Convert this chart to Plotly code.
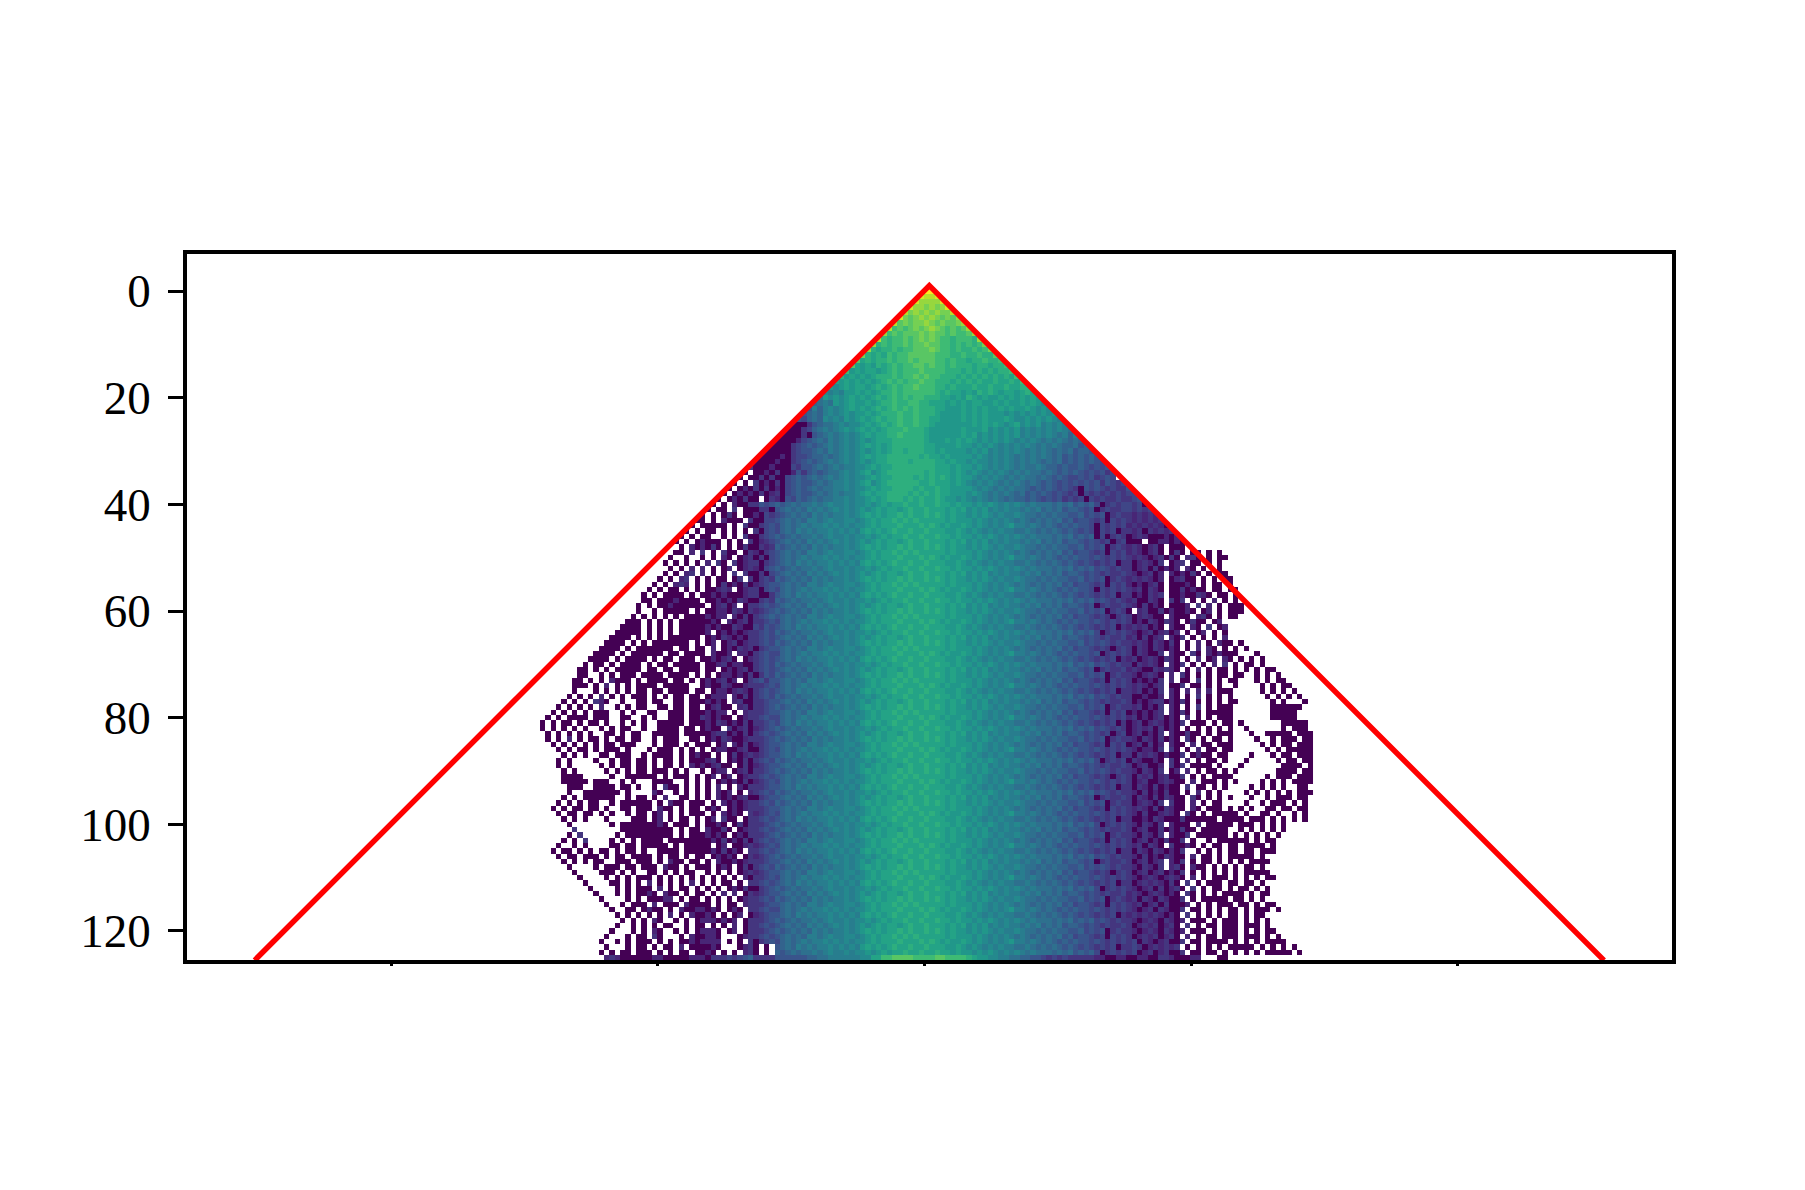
import numpy as np
import plotly.graph_objects as go

# one string per image row, ten cells per block, '.' is an empty cell
# levels run 0-9 then A-J along the colour scale
LEVELS = "0123456789ABCDEFGHIJ"
ROWS = [
# row 0
".......... .......... .......... .......... .......... .......... .......... ..JJ",
".......... .......... .......... .......... .......... .......... .......... .IHHI",
".......... .......... .......... .......... .......... .......... .......... IGGGGI",
".......... .......... .......... .......... .......... .......... .........I GGFGFGI",
".......... .......... .......... .......... .......... .......... ........HF GFGFGFFH",
".......... .......... .......... .......... .......... .......... .......IFE FGFGFEFEG",
".......... .......... .......... .......... .......... .......... ......HEFE FFGFEFEEFG",
".......... .......... .......... .......... .......... .......... .....HDEDE FEFGFEDEDE G",
".......... .......... .......... .......... .......... .......... ....GDEDEE EFEFEEDEDD EG",
".......... .......... .......... .......... .......... .......... ...HDCDDED EFEFEDDCDD DCG",
# row 10
".......... .......... .......... .......... .......... .......... ..GCDCDDED EEFEEDDCDC DCDF",
".......... .......... .......... .......... .......... .......... .GCBCCDCDD EEEFEDDCDC CDCDF",
".......... .......... .......... .......... .......... .......... FCBCBDCDDE EEEEDDDCCD CCDCCE",
".......... .......... .......... .......... .......... .........E BCBCCDCDDE DEEEDDCDCC BCCDCCD",
".......... .......... .......... .......... .......... ........EB ABACBCDCDD EEDEDDCDCC CBCCBCCD",
".......... .......... .......... .......... .......... .......DAB ABBABCDCDD DEDDDDCCCB CBCBCBCCD",
".......... .......... .......... .......... .......... ......CABA BABCCCDCDD EDEDDCCCBC BCBCBCBCBD",
".......... .......... .......... .......... .......... .....BABAB ABABCDCDCD DEDDCCCBCB CBCBBCBBCB D",
".......... .......... .......... .......... .......... ....A9ABAB BABCBCDCDD EDDDCCBCBB BCBBCBBCBB CC",
".......... .......... .......... .......... .......... ...9898AAB ABABCCDCDD DDDDCBCBBA BACBCBABBA BCB",
# row 20
".......... .......... .......... .......... .......... ..7A9A9ABA BABCBCDCDC DDCCCBBABA CBABAABABA BABA",
".......... .......... .......... .......... .......... .6787A9ABA ABABCCDCCD DCCBBBABAB ABBAABABAA BABA9",
".......... .......... .......... .......... .......... 5868989ABA BABCBCDCDC DCCCBBAAAB ABABAABABA ABA9A9",
".......... .......... .......... .......... .........5 6768989A9A ABABCCCDCC DCCCBAAAAB ABABAAA9A9 A9A9A9A",
".......... .......... .......... .......... ........54 6769898A9A BABCBCCDCC DCCBBAAAAB ABABAAABA9 9A9A9A98",
".......... .......... .......... .......... .......000 3567789899 ABABCBCDCC DCCBAAAAAA ABABABA9AB 9A9A89898",
".......... .......... .......... .......... ......0003 4678789A9A BABABCCCDC CCBAAAAAAB AAAB9A9A9A 8989898987",
".......... .......... .......... .......... .....00003 0567878989 ABABBCCDCC CCBAAAAAAB AB9A9A9A9A 8989898786 8",
".......... .......... .......... .......... ....000024 5676878989 A9ABBBCCCC CCBAAABABA BA9A9A9A98 9898787876 76",
".......... .......... .......... .......... ...0000345 6567878989 ABABABCCCC CCBBAAAABA A9A9A98989 8987878766 756",
# row 30
".......... .......... .......... .......... ..00000345 5676878989 A9ABABCCBC CCBBABAAAA 9A9A898989 8787876767 5665",
".......... .......... .......... .......... .000020344 5667678989 ABABBCCCCC CBCBBABAAA A9A9898987 8787876756 56565",
".......... .......... .......... .......... 0000200345 6567878989 A9ABBCCCCB CCCCBBABAA 9A99898987 8787676756 565654",
".......... .......... .......... .........3 0002000435 5676787889 9ABABBCCCC CCCCBBBABA A9A9898987 8778766565 5654545",
".......... .......... .......... ........0. 0020300253 5656778989 AB9ABCCCCC CCBCBBBABA 9A98989878 7877676565 65454534",
".......... .......... .......... .......0.0 0303004565 6767878989 9ABABBCCCC BCBCBCBABA A989898787 8776765654 45453454",
".......... .......... .......... ......0.0. 3020304565 5676788989 AB9ABCCCCC CBBCBBBABA 9898987878 7676565454 5454535434",
".......... .......... .......... .....0.020 3030204565 6767788989 9ABABBCCCC BCBBCBBAAA A989878787 7656565454 3054543433 5",
".......... .......... .......... ....0.0202 0302304565 5676787889 ABABBCCCCB CBCBCBBAAA 9A98787876 7565654543 4043434343 44",
".......... .......... .......... ...0.02030 0.03205465 6767788989 9ABABCCCBC BCBBCBAA9A 9898787676 6565454534 3404343343 345",
# row 40
".......... .......... .......... ..0.0.2003 3545656767 7878988989 9A9ABABBCB BCBBCBBABA A9A9A98989 8787776767 5656403434 4340",
".......... .......... .......... .0.00.3.00 0330567676 8787898989 A9ABABBABC BBCBBBABAB 9A9A898988 7878676756 6545034334 43434",
".......... .......... .......... 0.0.030.00 2043456767 6878788989 ABABABBCBC BBCBCBABAA 9A9A989889 8776767665 5645450343 323232",
".......... .......... .........0 0.0.2000.3 0044567676 8878988998 9ABABBCBCB CBBBBBABAA A9A9898987 8767676756 4554340434 3232323",
".......... .......... ........0. 00000.0.30 0345467678 7889898989 9ABABBBCBB BCBCBABAAB A9A98989A8 8787676565 6554043434 23232320",
".......... .......... .......0.0 .00.0.0.0. 3045467687 8788989898 ABABABCBBC BBCBBBAABA 9A98989887 7876767656 5454043403 323032323",
".......... .......... ......0.0. 00..0.0.30 0345656767 7878988989 9A9ABABBCB BCBBCBBABA A9A9A98989 8787776767 5656040343 0232000202",
".......... .......... .....0.0.0 2000.0.0.3 0234567676 8787898989 A9ABABBABC BBCBBBABAB 9A9A898988 7878676756 6545434034 000.002202 0",
".......... .......... ......0.20 2030.0.030 0323656767 6878788989 ABABABBCBC BBCBCBABAA 9A9A989889 8776767665 5645450343 2320230.00 0",
".......... .......... .....00.2. 3.0.300.03 2034567676 8878988998 9ABABBCBCB CBBBBBABAA A9A9898987 8767676756 4554340434 2320230.03 0.00.0.0.",
# row 50
".......... .......... ....0..0.. 0.0.20.023 0304567678 7889898989 9ABABBBCBB BCBCBABAAB A9A98989A8 8787676565 6554543434 3232023030 .230.0.00",
".......... .......... ...0.0.0.0 .2.30.3023 3034567687 8788989898 ABABABCBBC BBCBBBAABA 9A98989887 7876767656 5454343403 3023203.02 3.00.0.0.",
".......... .......... ....0.0.2. 2.0.02.023 2045656767 7878988989 9A9ABABBCB BCBBCBBABA A9A9A98989 8787776767 5656454343 3023030202 .20.0..0",
".......... .......... ...0.0.23. 2.0.0.3.30 0304567676 8787898989 A9ABABBABC BBCBBBABAB 9A9A898988 7878676756 6545434334 3202302.20 2030.0.00",
".......... .......... ..0.0.23.0 .0.00.03.3 0343656767 6878788989 ABABABBCBC BBCBCBABAA 9A9A989889 8776767665 5645450343 2323202.02 300.0.0.00",
".......... .......... .0.0.232.0 .0.0302030 2345567676 8878988998 9ABABBCBCB CBBBBBABAA A9A9898987 8767676756 4554340434 2020230.00 020.0.00.0",
".......... .......... 0.0.00.0.0 .00232.023 3045467678 7889898989 9ABABBBCBB BCBCBABAAB A9A98989A8 8787676565 6554043434 3230320.00 30200.00.0 0",
".......... .........0 .0.0000.0. 0020200023 3003567687 8788989898 ABABABCBBC BBCBBBAABA 9A98989887 7876767656 5454343403 3020323.00 200320.00. 0",
".......... .........0 0.00020000 .002020320 0343656767 7878988989 9A9ABABBCB BCBBCBBABA A9A9A98989 8787776767 5656454343 2300320.30 3.0.0.2.0. 0",
".......... ........0. 0.00200000 0.02302.03 3454567676 8787898989 A9ABABBABC BBCBBBABAB 9A9A898988 7878676756 6545034334 3203020.00 02.3.2.0.0 00",
# row 60
".......... ........0. .0.00000.0 .002203203 2345656767 6878788989 ABABABBCBC BBCBCBABAA 9A9A989889 8776767665 5645450343 0.23003020 020.02.0.0 00",
".......... .......0.0 .0.0.0.000 02022.2030 3456567676 8878988998 9ABABBCBCB CBBBBBABAA A9A9898987 8767676756 4554343034 3023200.20 00.230.0.0 0",
".......... ......000. 0.0.0.0000 0020.20230 3345467678 7889898989 9ABABBBCBB BCBCBABAAB A9A98989A8 8787676565 6554543434 3020320320 .0300.02",
".......... .....0000. 0.0.0.0000 0202003200 4354567687 8788989898 ABABABCBBC BBCBBBAABA 9A98989887 7876767656 5454343403 2323020.20 0.20.3.02",
".......... ....00000. 0.0.0.0000 02.0202023 3454656767 7878988989 9A9ABABBCB BCBBCBBABA A9A9A98989 8787776767 5656403434 3202302302 .0.02.0.0",
".......... ...0000.0. 0.0.000000 .020320203 3454567676 8787898989 A9ABABBABC BBCBBBABAB 9A9A898988 7878676756 6545434334 2303023.20 3.0.0.0.2.",
".......... ..0000.0.0 .0000000.0 .02.023023 3454656767 6878788989 ABABABBCBC BBCBCBABAA 9A9A989889 8776767665 5645454343 3232032030 .0.2.0.200 .0",
".......... .0000.0.00 00000.00.0 0.2.020323 0345567676 8878988998 9ABABBCBCB CBBBBBABAA A9A9898987 8767676756 4554343034 3032032020 .0.2.20.0. 0.0",
".......... 0000.0.000 000.00.000 0.2002.220 3454467678 7889898989 9ABABBBCBB BCBCBABAAB A9A98989A8 8787676565 6554503434 3032003.20 0.30.20200 0...0",
".........0 000.0.0000 .0.00.000. 0020230.02 3454567687 8788989898 ABABABCBBC BBCBBBAABA 9A98989887 7876767656 5454343403 2302320320 .0.2.02.20 .0.0.0",
# row 70
"........0. 00.0.0000. 0.00.00000 .002302200 3454656767 7878988989 9A9ABABBCB BCBBCBBABA A9A9A98989 8787776767 5656454343 3032320.20 3.0.0.2.3. 0.00.0",
".......00. 0.0.00000. 00.00.0000 .00.020230 3454567676 8787898989 A9ABABBABC BBCBBBABAB 9A9A898988 7878676756 6545034334 2320032320 .0.2.0.00. 0.0.0.00",
".......00. .0.0.000.0 000.0000.0 .0.0220203 0354656767 6878788989 ABABABBCBC BBCBCBABAA 9A9A989889 8776767665 5645450343 3202320.2. 30.0.0.00. 00..0.0.0",
"......00.0 .0.2000.0. 0000.00.0. 0202302.03 4535567676 8878988998 9ABABBCBCB CBBBBBABAA A9A9898987 8767676756 4554340434 3020203.2. 00.3.0.0.0 0...0.0.00",
"......000. 0.2.0.0.00 00.00000.. 0200320023 3345467678 7889898989 9ABABBBCBB BCBCBABAAB A9A98989A8 8787676565 6554543434 3232023.00 3.00.0.0.. 0....0.0.0 0",
"......0... 0.0.0.0.00 .00.0000.0 0.02202320 3454567687 8788989898 ABABABCBBC BBCBBBAABA 9A98989887 7876767656 5454343403 3230203.20 .2.2.2.000 .....0.0.0 .0",
".....0.0.0 .2.0.0.000 .0.0.00.00 .0222.2030 3454656767 7878988989 9A9ABABBCB BCBBCBBABA A9A9A98989 8787776767 5656454343 3002002.20 .0.3.0.0.0 ......0.0. 0.0",
"....0.0.0. 320..0..00 .00..00.00 02020.2300 3345567676 8787898989 A9ABABBABC BBCBBBABAB 9A9A898988 7878676756 6545434334 3020233020 30.0.0.0.0 0......0.0 ...0",
"...0.0.0.0 .2..0.0.00 ..00.00.00 .02300.230 3345656767 6878788989 ABABABBCBC BBCBCBABAA 9A9A989889 8776767665 5645450343 3230203.20 .0.3.0.000 .......000 000",
"..0.0.0.0. 000..0.0.. 00..000.00 02022.0.23 3345567676 8878988998 9ABABBCBCB CBBBBBABAA A9A9898987 8767676756 4554340434 0202023.20 30.0.00000 .......000 00",
# row 80
".0.0.0000. 000..00..0 .0..000.00 320200.023 3454467678 7889898989 9ABABBBCBB BCBCBABAAB A9A98989A8 8787676565 6554543434 2302023020 .2.0.0.000 .......000 00",
"0.0.00.0.0 0.0..0.0.0 ..00000.00 0203202030 3345467687 8788989898 ABABABCBBC BBCBBBAABA 9A98989887 7876767656 5454343403 0230232020 3.000.0.00 .0.......0 0000",
"0.0.0.0.0. .0.0.00..0 ..0000.00. 0200.30230 2345656767 7878988989 9A9ABABBCB BCBBCBBABA A9A9A98989 8787776767 5656454343 0232303020 .0.0.0.0.0 ..0......0 .000",
".0.0.0.0.0 ..00.0.00. .00000.000 0023302030 3454567676 8787898989 A9ABABBABC BBCBBBABAB 9A9A898988 7878676756 6545434034 0230203.20 0300.0.000 ...0..0000 0.000",
".0.0.2.0.0 0.0.00.00. .0.000..00 .020320023 3345656767 6878788989 ABABABBCBC BBCBCBABAA 9A9A989889 8776767665 5645450343 3203203020 .30.0.00.0 ....0..0.0 00.00",
"..0.0.0.0. 0.00.000.. .0.000.0.0 00.02.2030 2345567676 8878988998 9ABABBCBCB CBBBBBABAA A9A9898987 8767676756 4554340434 0230302.20 0.2.00.000 .....0.0.0 0.000",
"...0.0.00. 0.000.0... 0.000.0.0. 0.02200230 0345467678 7889898989 9ABABBBCBB BCBCBABAAB A9A98989A8 8787676565 6554543434 3202203.30 .0.2.00.00 ......0.0. 00000",
"....0.0.0. .00.000..0 .0000.0.02 00.0.03023 2345567687 8788989898 ABABABCBBC BBCBBBAABA 9A98989887 7876767656 5454343403 3032320200 3.0200.00. ...0...0.0 0.000",
"...0.0.... 0..0.00.00 .0.00.0.00 0230.02030 3454656767 7878988989 9A9ABABBCB BCBBCBBABA A9A9A98989 8787776767 5656403434 0320020.30 .2.0.00.0. ..0.....0. 00.00",
"...0.0.... .0.0.00.00 .0.00.0.20 202300.030 2345567676 8787898989 A9ABABBABC BBCBBBABAB 9A9A898988 7878676756 6545434334 3023002.30 3.0000.0.. .0.......0 000.0",
# row 90
"....0.0... ..0.0.0.00 .000.0.0.. 0.022.0230 3345656767 6878788989 ABABABBCBC BBCBCBABAA 9A9A989889 8776767665 5645454343 3203203.02 .2.0.00.0. 0.......00 00.00",
"....0000.. ...0..0000 00.0.000.0 .02.02.023 3454567676 8878988998 9ABABBCBCB CBBBBBABAA A9A9898987 8767676756 4554343034 3032302300 3.0.0.0000 ......0.00 0.000",
"....00000. 000..0.0.. .0000..0.0 .0.0202030 2345467678 7889898989 9ABABBBCBB BCBCBABAAB A9A98989A8 8787676565 6554543434 3023002320 0.2.000.0. 0....0.0.0 .0000",
".....000.. 0000.00.0. .0.300.0.0 .0.2.0.203 3345567687 8788989898 ABABABCBBC BBCBBBAABA 9A98989887 7876767656 5454343403 3032030200 .3.00.0.0. ...0.0.0.0 ..00",
".....0..00 00000.0... .20..0.0.0 .0.202.0.2 3454656767 7878988989 9A9ABABBCB BCBBCBBABA A9A9A98989 8787776767 5656454343 3203020300 .0.2.0.0.. ..0.0.0.0. 0.000",
"....0.0.00 0000..0.00 .0.2..00.0 .0.2020230 0345567676 8787898989 A9ABABBABC BBCBBBABAB 9A9A898988 7878676756 6545034334 3032030320 0.30.0.0.0 ...0..0.00 0.00",
"...0.0.0.0 0..0.00000 0.0.200.00 0.0.202023 3454656767 6878788989 ABABABBCBC BBCBCBABAA 9A9A989889 8776767665 5645450343 3023203.30 0.2.0.00.. ..0..0.000 .0.0",
"..0.0.00.0 0.0..00.00 0.200.0.00 .020.02023 3345567676 8878988998 9ABABBCBCB CBBBBBABAA A9A9898987 8767676756 4554340434 3232030320 0.20.000.0 .0.0..00.0 0.00",
"...0.00.00 .0.0..0.00 .02.0.0.00 0.0.2020.3 2345467678 7889898989 9ABABBBCBB BCBCBABAAB A9A98989A8 8787676565 6554543434 3203002320 .30.0.0000 0.0..00.0. .0.0",
"....0.0.0. ..0....000 .02.0.00.0 .02.300.03 3454567687 8788989898 ABABABCBBC BBCBBBAABA 9A98989887 7876767656 5454343403 3002032000 3000000.00 00.000.0.0 .0.0",
# row 100
".....0.... ...0.00000 0020.000.0 .0020.0303 3345656767 7878988989 9A9ABABBCB BCBBCBBABA A9A9A98989 8787776767 5656403434 3203203.20 00.2.00000 .000.0.0.0",
"......3... .....00000 00000.0.00 .20030.023 3454567676 8787898989 A9ABABBABC BBCBBBABAB 9A9A898988 7878676756 6545434334 3023003020 300.00000. .0.0.0.0.0",
".....0.3.. ....0.0000 00000.0.00 02020.0203 3345656767 6878788989 ABABABBCBC BBCBCBABAA 9A9A989889 8776767665 5645450343 3203203.20 03.000000. 0.0.0.0.0",
"....0.0.3. ...0.0.0.0 000.000000 0020302030 3454567676 8878988998 9ABABBCBCB CBBBBBABAA A9A9898987 8767676756 4554340434 3023020300 3.0..0.000 000.0.00.",
"...0..0.0. ...00.00.0 0000.0.000 00.02.0023 2345467678 7889898989 9ABABBBCBB BCBCBABAAB A9A98989A8 8787676565 6554543434 3230320.30 020.0.00.0 0.0000.0",
"..0.00.0.0 .00.0.00.0 ..0000.000 00203020.3 3454567687 8788989898 ABABABCBBC BBCBBBAABA 9A98989887 7876767656 5454343403 3032032020 3..0.0.0.0 0.00.000",
"...0.00.00 0.0.00.000 0.0.00.0.0 0.02020.03 2345656767 7878988989 9A9ABABBCB BCBBCBBABA A9A9A98989 8787776767 5656454343 3203020320 0.2.00.0.0 0000.0.",
"....0.0.0. 00..000.00 0.0.200.00 .0.2002023 3345567676 8787898989 A9ABABBABC BBCBBBABAB 9A9A898988 7878676756 6545034334 3023023.20 3.0.00.0.0 .0.0000",
".....0.... 0.000.00.0 00.200.0.0 00.020.030 3454656767 6878788989 ABABABBCBC BBCBCBABAA 9A9A989889 8776767665 5645454343 3203203.23 0.200.0.0. 0.00.0.",
"......0... .000.0.0.. 00.0.0.00. .0.0.0.023 2345567676 8878988998 9ABABBCBCB CBBBBBABAA A9A9898987 8767676756 4554343034 3023023020 3.0.0.0.0. 0.00000",
# row 110
".......0.. ..0.0.0.00 0.0.0.0.0. 0.0.0.0.20 3345467678 7889898989 9ABABBBCBB BCBCBABAAB A9A98989A8 8787676565 6554543434 3202320232 0.2.0.000. 0.0.0.00",
"........0. ...00.0.0. 2.0.0.0.2. 0.0.00.0.3 3454567687 8788989898 ABABABCBBC BBCBBBAABA 9A98989887 7876767656 5454343403 3023232030 .3.0.000.0 0.00.0.",
".........0 ....0.0.00 0.2.0.00.0 .0.0.02030 0345656767 7878988989 9A9ABABBCB BCBBCBBABA A9A9A98989 8787776767 5656403434 3202303023 0.3.0.00.0 .00.0.0",
".......... 0...0.0.00 20.200.0.0 0.0.2.2.03 2345567676 8787898989 A9ABABBABC BBCBBBABAB 9A9A898988 7878676756 6545434334 2320232020 .30.0.0.00 00.0.00",
".......... .0....0.0. 00022.0.00 .0.0.0.023 3454656767 6878788989 ABABABBCBC BBCBCBABAA 9A9A989889 8776767665 5645450343 2303203200 3.0.00000. 00.0.0.",
".......... ..0..0.000 .2.000.200 00.0.00.23 3345567676 8878988998 9ABABBCBCB CBBBBBABAA A9A9898987 8767676756 4554340434 3230230300 02.0.0.000 .00.0.00",
".......... ...0..00.0 200.0.2002 2020.020.3 3454467678 7889898989 9ABABBBCBB BCBCBABAAB A9A98989A8 8787676565 6554543434 3202303200 3.00.0.0.0 0.0.000.0",
".......... ....0.0.0. 0.0.2.0.20 020.0.02.0 2345567687 8788989898 ABABABCBBC BBCBBBAABA 9A98989887 7876767656 5454343403 2323232020 .3.0.0.0.0 0.0.00.",
".......... .....0.0.0 .20..0.0.0 2220202.03 3345656767 7878988989 9A9ABABBCB BCBBCBBABA A9A9A98989 8787776767 5656454343 3202320320 2.000.0.00 0.0.0.0",
".......... ....0..0.0 .0.00..0.0 0.0.0.2.03 3454567676 8787898989 A9ABABBABC BBCBBBABAB 9A9A898988 7878676756 6545434334 3023230230 .3.0.00.00 0.000.0",
# row 120
".......... ...0...0.0 .20..0.0.0 2220.02.03 3345656767 6878788989 ABABABBCBC BBCBCBABAA 9A9A989889 8776767665 5645450343 3202320320 2.000.0.00 0.0.0.00",
".......... ..0...0.00 .30...0.20 0220...023 3454567676 8878988998 9ABABBCBCB CBBBBBABAA A9A9898987 8767676756 4554340434 3023230230 .2.0.00.00 0.000.0.0",
".......... .0..0.0.00 0.0.0.0020 2222.0.0.3 0345467678 7889898989 9ABABBBCBB BCBCBABAAB A9A98989A8 8787676565 6554543434 3403202300 3.00.0000. 0.0.0.0000",
".......... ..0...0.00 .0.00.2.00 0020...023 0.0.567687 8788989898 ABABABCBBC BBCBBBAABA 9A98989887 7876767656 5454343403 3430232323 .0.0.0.0.0 0000.0.0.0 .0",
".......... .0.0.00.00 0.0.0.00.0 020.0.0.23 0.0.656767 7878988989 9A9ABABBCB BCBBCBBABA A9A9A98989 8787776767 5656403434 3402302300 3.00.00.0. 0.0.0.0000 0.0",
".......... ..23200000 0220000022 2033343456 3333555555 6677888888 99BBDDEEEE DDDDEEDDDD CBAA998877 6655434343 3333220022 0022003320 0022...00",
]
XTICKS = [-28.4, 21.6, 71.6, 121.6, 171.6]
YTICKS = [0, 20, 40, 60, 80, 100, 120]
# red wedge from the apex down to the bottom edge
WEDGE_X = [-54, 72.5, 199]
WEDGE_Y = [125.5, -1, 125.5]

width = 145
z = np.full((len(ROWS), width), np.nan)
for r, row in enumerate(ROWS):
    cells = row.replace(" ", "")
    for k, ch in enumerate(cells[:width]):
        if ch != ".":
            z[r, k] = LEVELS.index(ch) / 19

fig = go.Figure()
fig.add_trace(go.Heatmap(z=z, x=list(range(width)), y=list(range(len(ROWS))),
                         colorscale="Viridis", zmin=0, zmax=1, showscale=False))
fig.add_trace(go.Scatter(x=WEDGE_X, y=WEDGE_Y, mode="lines",
                         line=dict(color="#ff0000", width=5.5), showlegend=False))

fig.update_layout(
    width=1805, height=1190,
    margin=dict(l=179, r=141, t=246, b=238, pad=0),
    paper_bgcolor="white", plot_bgcolor="white",
    showlegend=False,
    font=dict(family="Liberation Serif", color="black"),
)
fig.update_xaxes(range=[-66.69, 211.75], tickvals=XTICKS, showticklabels=False,
                 ticks="outside", ticklen=2, tickwidth=3, tickcolor="black",
                 showgrid=False, zeroline=False, showline=True, linecolor="black",
                 linewidth=3.5, mirror=True)
fig.update_yaxes(range=[125.44, -6.94], tickvals=YTICKS, ticks="outside", ticklen=15,
                 tickwidth=3, tickcolor="black", tickfont=dict(size=47),
                 ticklabelstandoff=8,
                 showgrid=False, zeroline=False, showline=True, linecolor="black",
                 linewidth=3.5, mirror=True)

fig.write_html("out.html")
